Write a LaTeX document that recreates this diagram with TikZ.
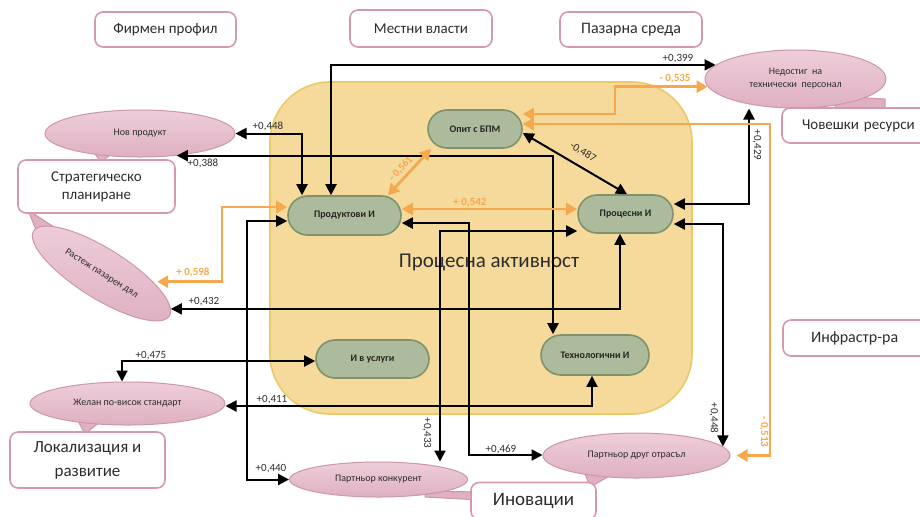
\documentclass[tikz,border=0pt]{standalone}
\usepackage{fontspec}
\setmainfont{Carlito}
\usetikzlibrary{arrows.meta,shapes.geometric,shapes.misc}

\definecolor{boxline}{RGB}{214,152,174}
\definecolor{txt}{RGB}{45,45,45}
\definecolor{gfill}{RGB}{172,187,155}
\definecolor{gline}{RGB}{128,146,108}
\definecolor{pfill}{RGB}{238,206,218}
\definecolor{pfilldark}{RGB}{222,176,193}
\definecolor{pline}{RGB}{205,150,170}
\definecolor{areafill}{RGB}{245,218,155}
\definecolor{arealine}{RGB}{236,200,105}
\definecolor{orng}{RGB}{246,168,78}

\tikzset{
  outbox/.style={draw=boxline, line width=0.8pt, fill=white, rounded corners=4pt,
    align=center, text=txt, inner sep=1pt},
  inno/.style={rounded rectangle, draw=gline, line width=0.8pt, fill=gfill,
    font=\fontsize{5}{6}\selectfont\bfseries, text=black!85, inner sep=1pt},
  bubble/.style={ellipse, draw=pline, line width=0.5pt, top color=pfill,
    bottom color=pfilldark, inner sep=0pt, font=\fontsize{5}{6.5}\selectfont,
    text=txt, align=center},
  tail/.style={draw=pline, line width=0.5pt, fill=pfilldark},
  tipk/.tip={Triangle[length=5.5pt,width=5.5pt]},
  link/.style={draw=black, line width=1pt, tipk-tipk},
  olink/.style={draw=orng, line width=1.4pt,
    {Triangle[length=5.5pt,width=6pt]}-{Triangle[length=5.5pt,width=6pt]}},
  num/.style={font=\fontsize{5.5}{6}\selectfont, text=txt, inner sep=0pt},
  onum/.style={font=\fontsize{5.5}{6}\selectfont\bfseries, text=orng, inner sep=0pt},
}

\begin{document}
\begin{tikzpicture}[x=0.5pt, y=-0.5pt]
\useasboundingbox (0,0) rectangle (920,516);

% process activity area
\node[draw=arealine, line width=0.8pt, fill=areafill, rounded corners=30pt,
  minimum width=211pt, minimum height=166pt] (area) at (481,248) {};
\node[font=\fontsize{10.5}{12}\selectfont, text=txt] (areatitle) at (489,262) {Процесна активност};

% callout tails
\filldraw[tail] (92,150) -- (101,162) -- (114,152) -- cycle;
\filldraw[tail] (835,96) -- (885,99) -- (885,112) -- (835,112) -- cycle;
\filldraw[tail] (28,210) -- (38,235) -- (57,229) -- cycle;
\filldraw[tail] (77,419) -- (85,434) -- (101,421) -- cycle;
\filldraw[tail] (425,491) -- (480,492) -- (480,500) -- (425,497) -- cycle;
\filldraw[tail] (584,471) -- (590,487) -- (613,474) -- cycle;

% callout bubbles
\node[bubble, minimum width=95pt, minimum height=23.5pt] (novprod) at (140,133.5) {Нов продукт};
\node[bubble, minimum width=90.5pt, minimum height=29pt] (nedostig) at (795.5,79)
  {Недостиг\ \ на\\технически\ \ персонал};
\node[bubble, rotate=-32, minimum width=80pt, minimum height=25pt] (rastezh) at (101.5,273.5)
  {Растеж пазарен дял};
\node[bubble, minimum width=97.5pt, minimum height=21.5pt] (zhelan) at (127.5,403.5)
  {Желан по-висок стандарт};
\node[bubble, minimum width=89pt, minimum height=17.5pt] (partkonk) at (378.5,479.5)
  {Партньор конкурент};
\node[bubble, minimum width=93.5pt, minimum height=22.5pt] (partdrug) at (636.5,455.5)
  {Партньор друг отрасъл};

% outer factor boxes
\node[outbox, font=\fontsize{7.5}{9}\selectfont, minimum width=70.5pt, minimum height=17.5pt]
  (firm) at (165.5,29.5) {Фирмен профил};
\node[outbox, font=\fontsize{7.5}{9}\selectfont, minimum width=71pt, minimum height=18.5pt]
  (vlasti) at (421,28.5) {Местни власти};
\node[outbox, font=\fontsize{8}{9}\selectfont, minimum width=71pt, minimum height=17.5pt]
  (pazar) at (631,29.5) {Пазарна среда};
\node[outbox, font=\fontsize{7.5}{9}\selectfont, minimum width=74pt, minimum height=17.5pt,
  text width=70pt, align=left, inner xsep=2pt] (hr) at (856,125.5) {\hspace*{8pt}Човешки ресурси};
\node[outbox, font=\fontsize{8}{9}\selectfont, minimum width=74pt, minimum height=18pt,
  text width=70pt, align=left, inner xsep=2pt] (infra) at (857,338) {\hspace*{12pt}Инфрастр-ра};
\node[outbox, font=\fontsize{7.5}{9}\selectfont, minimum width=78.5pt, minimum height=26.5pt]
  (strat) at (96.5,186.5) {Стратегическо\\планиране};
\node[outbox, font=\fontsize{8.5}{12}\selectfont, minimum width=77.5pt, minimum height=28pt]
  (lokal) at (87.5,460) {Локализация и\\развитие};
\node[outbox, font=\fontsize{9.5}{11}\selectfont, minimum width=62.5pt, minimum height=18.5pt]
  (inov) at (533.5,501) {Иновации};

% innovation types
\node[inno, minimum width=49pt, minimum height=19pt] (opit) at (475,129) {Опит с БПМ};
\node[inno, minimum width=58.5pt, minimum height=19.5pt] (prod) at (344.5,215.5) {Продуктови И};
\node[inno, minimum width=49.5pt, minimum height=19pt] (proc) at (625.5,214) {Процесни И};
\node[inno, minimum width=58.5pt, minimum height=19pt] (usl) at (372.5,359) {И в услуги};
\node[inno, minimum width=56pt, minimum height=20pt] (tech) at (595,355) {Технологични И};

% correlations (black)
\draw[link] (novprod.east) -| (prod.north -| 302,0);
\draw[link] (novprod.-31) -| (tech.north -| 553,0);
\draw[link] (prod.north -| 331,0) |- (nedostig.170);
\draw[link] (proc.east |- 0,204) -| (nedostig.south -| 749,0);
\draw[link] (opit.east |- 0,133) -- (proc.north -| 627,0);
\draw[link] (rastezh.5) -| (proc.south -| 620,0);
\draw[link] (prod.west |- 0,221) -| (247,300) |- (partkonk.west);
\draw[link] (zhelan.north -| 122,0) |- (usl.west |- 0,361);
\draw[link] (zhelan.east |- 0,406) -| (tech.south -| 592,0);
\draw[link] (proc.west |- 0,231) -| (partkonk.north -| 440,0);
\draw[link] (prod.east |- 0,223) -| (469,300) |- (partdrug.west |- 0,455);
\draw[link] (proc.east |- 0,224) -| (partdrug.6);

% correlations (orange)
\draw[olink] (opit.east |- 0,114) -| (615,100) |- (nedostig.185);
\draw[olink, shorten >=3pt] (opit.east |- 0,124) -| (770,300) |- (partdrug.east);
\draw[olink] (prod.north -| 388,0) -- (opit.south -| 431,0);
\draw[olink] (prod.east |- 0,209) -- (proc.west |- 0,209);
\draw[olink, shorten <=2pt] (rastezh.23) -| (222,250) |- (prod.west |- 0,207);

% coefficients
\node[num] (c1) at (268,126) {+0,448};
\node[num] (c2) at (203,163) {+0,388};
\node[num] (c3) at (678,59) {+0,399};
\node[num, rotate=-90] (c4) at (757,145) {+0,429};
\node[num, rotate=-31] (c5) at (583,152) {-0,487};
\node[num] (c6) at (204,302) {+0,432};
\node[num] (c7) at (271,469) {+0,440};
\node[num] (c8) at (151,356) {+0,475};
\node[num] (c9) at (272,400) {+0,411};
\node[num, rotate=-90] (c10) at (427,433) {+0,433};
\node[num] (c11) at (501,449) {+0,469};
\node[num, rotate=-90] (c12) at (714,418) {+0,448};
\node[onum] (o1) at (675,79) {- 0,535};
\node[onum, rotate=-90] (o2) at (764,432) {- 0,513};
\node[onum, rotate=47, font=\fontsize{5.2}{6}\selectfont\bfseries] (o3) at (401,169) {- 0,561};
\node[onum] (o4) at (470,203) {+ 0,542};
\node[onum] (o5) at (193,272) {+ 0,598};
\end{tikzpicture}
\end{document}
